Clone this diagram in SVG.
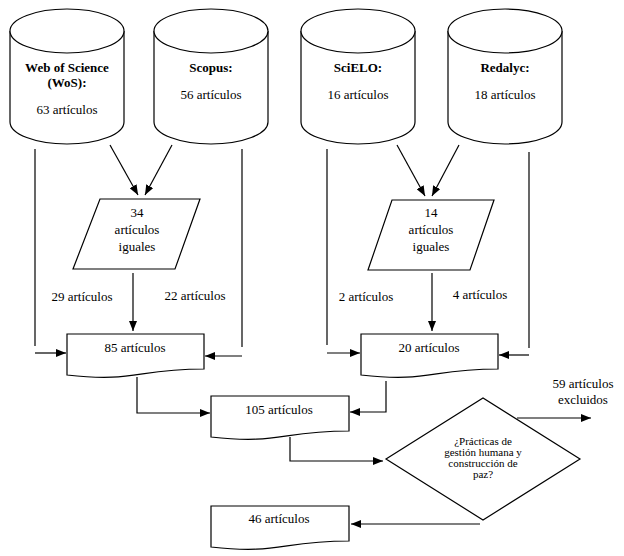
<svg xmlns="http://www.w3.org/2000/svg" width="624" height="556" viewBox="0 0 624 556" font-family="'Liberation Serif', 'Times New Roman', 'DejaVu Serif', serif">
<style>
  .shape { fill: #ffffff; stroke: #000000; stroke-width: 1.2; }
  .ln { fill: none; stroke: #000000; stroke-width: 1.2; }
  text { font-family: 'Liberation Serif', 'Times New Roman', 'DejaVu Serif', serif; font-size: 13px; fill: #000000; text-anchor: middle; }
  .b { font-weight: bold; }
  .sm { font-size: 11px; }
</style>
<defs>
  <marker id="arr" markerUnits="userSpaceOnUse" markerWidth="10" markerHeight="8" refX="10" refY="4" orient="auto">
    <path d="M0,0 L10,4 L0,8 Z" fill="#000000"/>
  </marker>
</defs>
<rect width="624" height="556" fill="#ffffff"/>

<g id="wos">
  <path class="shape" d="M10,31 V122 A57,22 0 0 0 124,122 V31"/>
  <ellipse class="shape" cx="67" cy="31" rx="57" ry="22"/>
  <text class="b" x="67" y="72">Web of Science</text>
  <text class="b" x="67" y="87">(WoS):</text>
  <text x="67" y="114">63 artículos</text>
</g>
<g id="scopus">
  <path class="shape" d="M154,31 V122 A57,22 0 0 0 268,122 V31"/>
  <ellipse class="shape" cx="211" cy="31" rx="57" ry="22"/>
  <text class="b" x="211" y="72">Scopus:</text>
  <text x="211" y="99">56 artículos</text>
</g>
<g id="scielo">
  <path class="shape" d="M301,31 V122 A57,22 0 0 0 415,122 V31"/>
  <ellipse class="shape" cx="358" cy="31" rx="57" ry="22"/>
  <text class="b" x="358" y="72">SciELO:</text>
  <text x="358" y="99">16 artículos</text>
</g>
<g id="redalyc">
  <path class="shape" d="M448,31 V122 A57,22 0 0 0 562,122 V31"/>
  <ellipse class="shape" cx="505" cy="31" rx="57" ry="22"/>
  <text class="b" x="505" y="72">Redalyc:</text>
  <text x="505" y="99">18 artículos</text>
</g>

<g id="iguales1">
  <polygon class="shape" points="100,199 200,199 175,269 73,269"/>
  <text x="137" y="217">34</text>
  <text x="137" y="234">artículos</text>
  <text x="137" y="251">iguales</text>
</g>
<g id="iguales2">
  <polygon class="shape" points="392,200 494,200 470,270 368,270"/>
  <text x="431" y="217">14</text>
  <text x="431" y="234">artículos</text>
  <text x="431" y="251">iguales</text>
</g>

<g id="box85">
  <path class="shape" d="M67,334 H204 V369 C135.5,369 135.5,382.7 67,375 Z"/>
  <text x="135" y="352">85 artículos</text>
</g>
<g id="box20">
  <path class="shape" d="M361,334 H498 V369 C429.5,369 429.5,382.7 361,375 Z"/>
  <text x="429" y="352">20 artículos</text>
</g>
<g id="box105">
  <path class="shape" d="M211,396 H349 V431 C280,431 280,444.7 211,437 Z"/>
  <text x="279" y="414">105 artículos</text>
</g>
<g id="decision">
  <polygon class="shape" points="386,459 483,398 580,459 483,520"/>
  <text class="sm" x="483" y="445">¿Prácticas de</text>
  <text class="sm" x="483" y="456">gestión humana y</text>
  <text class="sm" x="483" y="467">construcción de</text>
  <text class="sm" x="483" y="478">paz?</text>
</g>
<g id="box46">
  <path class="shape" d="M211,506 H349 V541 C280,541 280,554.7 211,547 Z"/>
  <text x="279" y="523">46 artículos</text>
</g>
<g id="excluded">
  <text x="583" y="388">59 artículos</text>
  <text x="583" y="404">excluidos</text>
</g>

<g id="connectors">
  <line class="ln" x1="110" y1="145" x2="138" y2="195" marker-end="url(#arr)"/>
  <line class="ln" x1="172" y1="145" x2="145" y2="195" marker-end="url(#arr)"/>
  <line class="ln" x1="397" y1="145" x2="425" y2="196" marker-end="url(#arr)"/>
  <line class="ln" x1="459" y1="145" x2="432" y2="196" marker-end="url(#arr)"/>

  <line class="ln" x1="133" y1="273" x2="133" y2="331" marker-end="url(#arr)"/>
  <line class="ln" x1="432" y1="273" x2="432" y2="331" marker-end="url(#arr)"/>

  <line class="ln" x1="35" y1="149" x2="35" y2="346"/>
  <line class="ln" x1="35" y1="353" x2="66" y2="353" marker-end="url(#arr)"/>
  <line class="ln" x1="242" y1="149" x2="242" y2="347"/>
  <line class="ln" x1="242" y1="356" x2="205" y2="356" marker-end="url(#arr)"/>

  <line class="ln" x1="327" y1="149" x2="327" y2="345"/>
  <line class="ln" x1="327" y1="353" x2="360" y2="353" marker-end="url(#arr)"/>
  <line class="ln" x1="529" y1="152" x2="529" y2="348"/>
  <line class="ln" x1="529" y1="355" x2="499" y2="355" marker-end="url(#arr)"/>

  <polyline class="ln" points="137,377 137,413 210,413" marker-end="url(#arr)"/>
  <polyline class="ln" points="386,381 386,412 350,412" marker-end="url(#arr)"/>
  <polyline class="ln" points="290,437 290,461 383,461" marker-end="url(#arr)"/>
  <line class="ln" x1="517" y1="418" x2="591" y2="418" marker-end="url(#arr)"/>
  <line class="ln" x1="480" y1="524" x2="351" y2="524" marker-end="url(#arr)"/>

  <text x="82" y="301">29 artículos</text>
  <text x="195" y="300">22 artículos</text>
  <text x="366" y="301">2 artículos</text>
  <text x="480" y="299">4 artículos</text>
</g>
</svg>
